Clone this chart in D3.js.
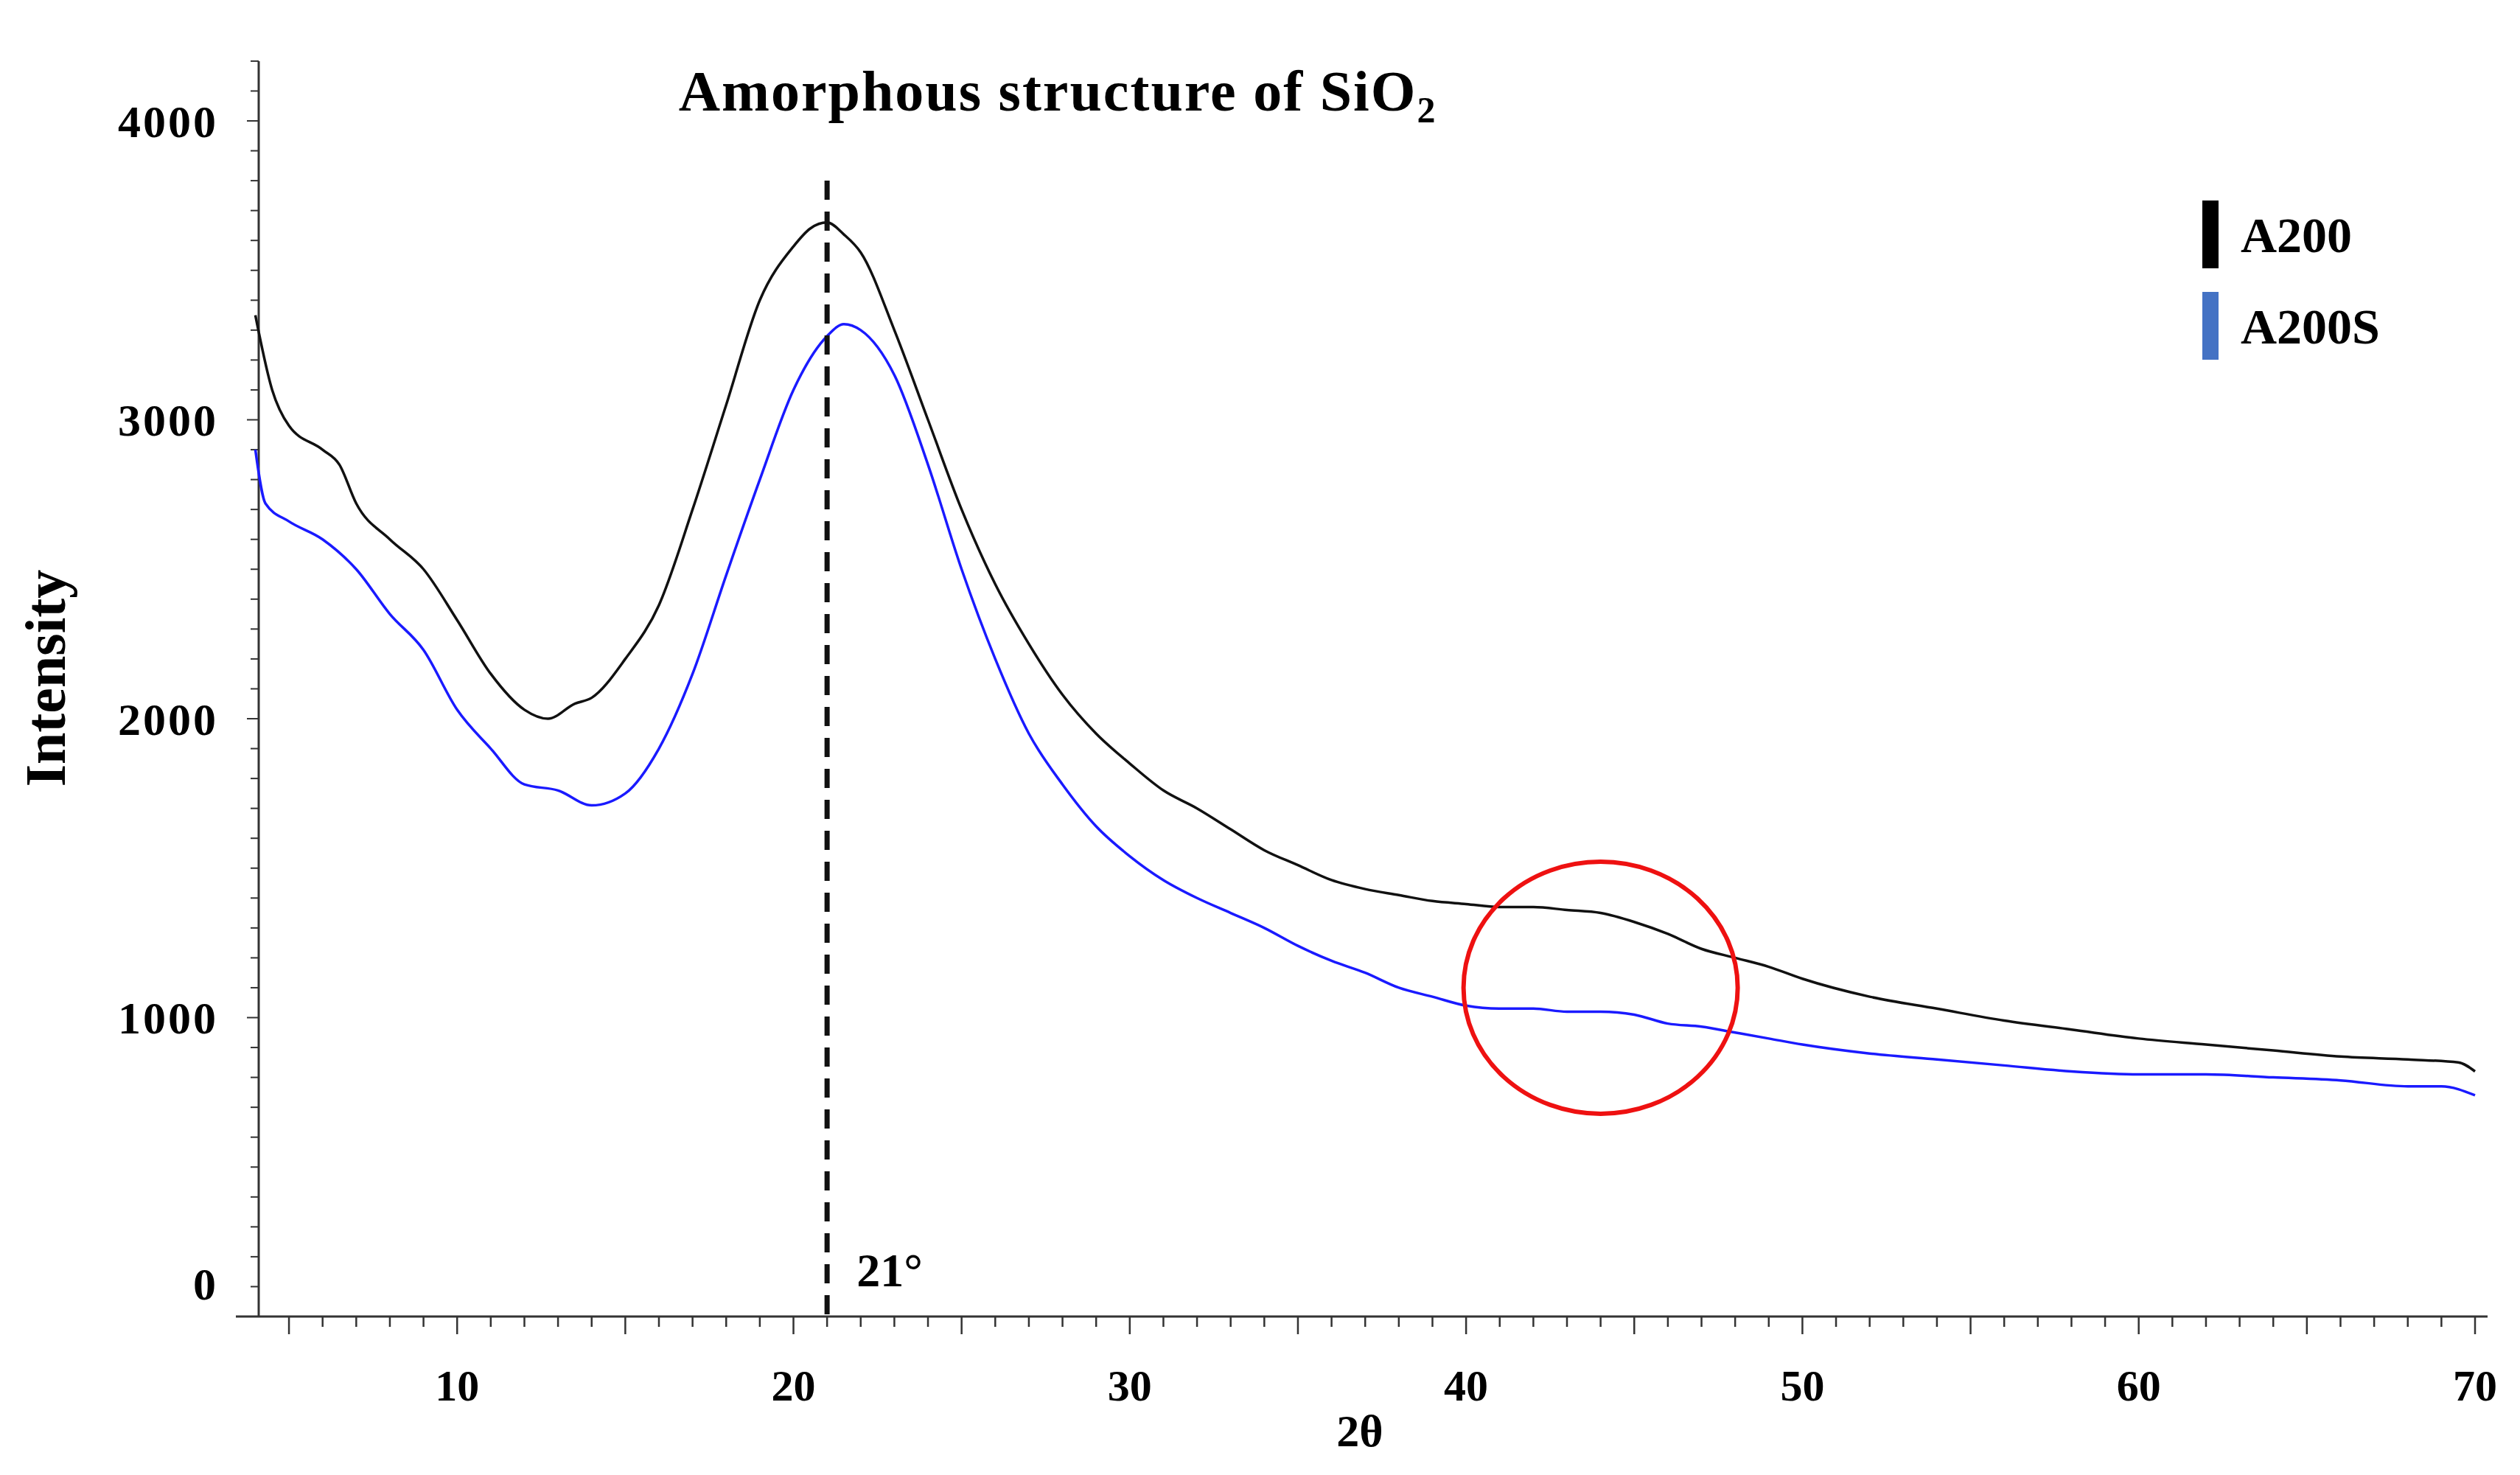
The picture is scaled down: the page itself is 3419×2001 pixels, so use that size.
<!DOCTYPE html>
<html><head><meta charset="utf-8">
<script src="https://cdn.jsdelivr.net/npm/d3@7"></script>
<style>body{margin:0;background:#fff}svg{display:block}</style>
</head><body>
<svg id="c" width="3419" height="2001"></svg>
<script>
const a200X = [4,4.5,5,6,6.5,7,8,9,10,11,12,12.7,13.5,14,15,16,17,18,19,20,20.5,21,21.5,22,23,24,25,26,27,28,29,30,31,32,33,34,35,36,37,38,39,40,41,42,43,44,45,46,47,48,49,50,52,54,56,58,60,62,64,66,68,69.5,70];
const a200Y = [3350,3100,2980,2900,2850,2720,2600,2500,2330,2150,2030,2000,2050,2070,2200,2380,2700,3050,3400,3580,3640,3660,3620,3560,3300,3000,2700,2450,2250,2080,1950,1850,1760,1700,1630,1560,1510,1460,1430,1410,1390,1380,1370,1370,1360,1350,1320,1280,1230,1200,1170,1130,1070,1030,990,960,930,910,890,870,860,850,820];
const a200sX = [4,4.3,5,6,7,8,9,10,11,12,13,14,15,16,17,18,19,20,21,21.5,22,23,24,25,26,27,28,29,30,31,32,33,34,35,36,37,38,39,40,41,42,43,44,45,46,47,48,49,50,52,54,56,58,60,62,64,66,68,69,70];
const a200sY = [2900,2720,2660,2600,2500,2350,2230,2030,1900,1780,1760,1710,1750,1900,2150,2480,2800,3100,3280,3320,3300,3150,2850,2500,2200,1950,1780,1640,1540,1460,1400,1350,1300,1240,1190,1150,1100,1070,1040,1030,1030,1020,1020,1010,980,970,950,930,910,880,860,840,820,810,810,800,790,770,770,740];
const xTicks = [10,20,30,40,50,60,70];
const yTicks = [0,1000,2000,3000,4000];
const seriesNames = ["A200","A200S"];
const seriesColors = ["#111111","#1a1aff"];
const legendColors = ["#000000","#4472c4"];

const svg = d3.select("#c");
const font = "'Liberation Serif', serif";
const x = d3.scaleLinear().domain([4.1,70]).range([351,3358]);
const y = d3.scaleLinear().domain([0,4000]).range([1786,164]);

svg.append("line").attr("x1",351).attr("x2",351).attr("y1",83).attr("y2",1786).attr("stroke","#333").attr("stroke-width",3);
svg.append("line").attr("x1",320).attr("x2",3375).attr("y1",1786).attr("y2",1786).attr("stroke","#333").attr("stroke-width",3);
svg.selectAll(".yt").data(d3.range(0,4201,100)).join("line")
  .attr("x1",d=>d%1000===0?335:340).attr("x2",351).attr("y1",d=>y(d)).attr("y2",d=>y(d)).attr("stroke","#333").attr("stroke-width",2);
svg.selectAll(".ytl").data(yTicks).join("text")
  .attr("x",296).attr("y",d=>y(d)+(d===0?-45:0)).attr("dy","0.35em").attr("text-anchor","end")
  .attr("font-family",font).attr("font-weight","bold").attr("font-size",62).attr("letter-spacing",3).text(d=>d);
svg.selectAll(".xt").data(d3.range(5,71,1)).join("line")
  .attr("x1",d=>x(d)).attr("x2",d=>x(d)).attr("y1",1786).attr("y2",d=>d%5===0?1810:1800).attr("stroke","#333").attr("stroke-width",2.5);
svg.selectAll(".xtl").data(xTicks).join("text")
  .attr("x",d=>x(d)).attr("y",1900).attr("text-anchor","middle")
  .attr("font-family",font).attr("font-weight","bold").attr("font-size",60).text(d=>d);

svg.append("text").attr("transform","translate(88,920) rotate(-90)").attr("text-anchor","middle")
  .attr("font-family",font).attr("font-weight","bold").attr("font-size",78).text("Intensity");
svg.append("text").attr("x",1845).attr("y",1962).attr("text-anchor","middle")
  .attr("font-family",font).attr("font-weight","bold").attr("font-size",62).text("2θ");

const t = svg.append("text").attr("x",1435).attr("y",150).attr("text-anchor","middle")
  .attr("font-family",font).attr("font-weight","bold").attr("font-size",78).attr("letter-spacing",2);
t.append("tspan").text("Amorphous structure of SiO");
t.append("tspan").attr("font-size",50).attr("dy",16).text("2");

const line = d3.line().x(d=>x(d[0])).y(d=>y(d[1])).curve(d3.curveMonotoneX);
[[a200X,a200Y],[a200sX,a200sY]].forEach((s,i)=>{
  svg.append("path").datum(s[0].map((v,j)=>[v,s[1][j]])).attr("d",line)
    .attr("fill","none").attr("stroke",seriesColors[i]).attr("stroke-width",3.5);
});

svg.append("line").attr("x1",x(21)).attr("x2",x(21)).attr("y1",245).attr("y2",1786)
  .attr("stroke","#111").attr("stroke-width",7).attr("stroke-dasharray","26,16");
svg.append("text").attr("x",x(21)+40).attr("y",1745).attr("font-family",font).attr("font-weight","bold").attr("font-size",64).text("21°");

svg.append("ellipse").attr("cx",x(44)).attr("cy",y(1100)).attr("rx",186).attr("ry",171)
  .attr("fill","none").attr("stroke","#ee1111").attr("stroke-width",6);

seriesNames.forEach((n,i)=>{
  const yy = 272 + i*124;
  svg.append("rect").attr("x",2988).attr("y",yy).attr("width",22).attr("height",92).attr("fill",legendColors[i]);
  svg.append("text").attr("x",3040).attr("y",yy+46).attr("dy","0.35em").attr("font-family",font)
    .attr("font-weight","bold").attr("font-size",68).text(n);
});
</script>
</body></html>
